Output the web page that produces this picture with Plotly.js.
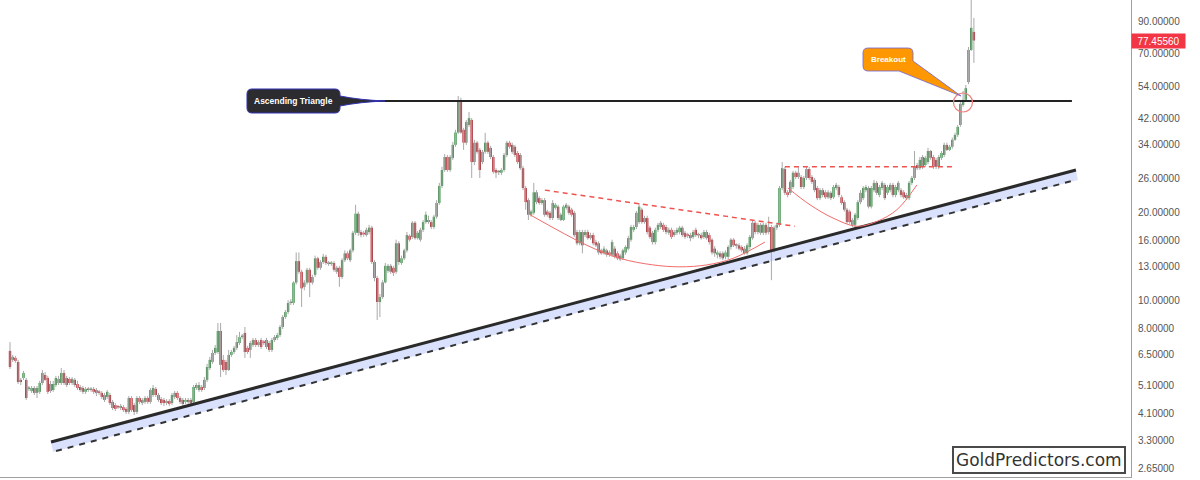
<!DOCTYPE html>
<html>
<head>
<meta charset="utf-8">
<script src="https://cdn.plot.ly/plotly-3.0.1.min.js"></script>
<style>
html,body{margin:0;padding:0;background:#ffffff;}
#chart{width:1200px;height:480px;}
</style>
</head>
<body>
<div id="chart"></div>
<script>
// ---- Candle data (weekly candles) ----
const openP = [
6.70,6.24,6.34,6.14,5.33,5.41,5.33,4.96,4.88,5.00,
4.81,4.85,5.20,5.54,5.41,5.16,4.92,5.12,5.20,5.20,
5.63,5.41,5.37,5.20,5.33,5.16,5.04,5.00,4.85,4.96,
4.92,4.96,4.92,4.85,4.81,4.73,4.66,4.73,4.48,4.37,
4.30,4.27,4.30,4.24,4.14,4.62,4.37,4.14,4.62,4.44,
4.48,4.62,4.48,4.73,4.96,4.73,4.58,4.55,4.44,4.51,
4.44,4.66,4.81,4.62,4.55,4.48,4.55,4.55,4.48,5.00,
4.92,5.04,5.00,5.33,5.85,6.14,6.59,6.64,7.84,6.24,
6.14,5.76,6.49,6.64,6.86,7.13,7.47,7.72,6.86,6.75,
7.02,7.30,7.02,7.30,7.18,7.30,7.13,6.75,7.30,7.42,
7.59,8.09,8.75,9.10,9.77,9.77,11.48,13.6,12.5,11.1,
11.48,12.7,11.48,12.2,13.9,12.9,13.5,14.07,13.4,13.3,
13.4,12.5,12.9,12.0,13.7,14.46,13.7,14.8,17.0,19.76,
17.1,17.0,16.7,17.1,17.7,13.5,11.9,9.85,10.24,11.5,
12.6,13.1,12.9,12.5,15.65,13.4,13.9,14.8,16.6,16.45,
18.4,16.3,16.1,17.4,18.5,18.8,18.5,17.8,19.3,21.5,
24.6,27.9,30.9,27.9,30.7,34.0,37.5,47.7,38.3,34.6,
39.8,41.4,29.7,34.6,32.7,29.7,32.2,34.6,33.2,30.9,
27.9,27.5,27.3,27.9,31.4,34.6,34.0,33.5,31.9,31.4,
28.3,24.2,22.0,19.6,19.9,23.4,22.35,21.5,22.0,20.1,
19.9,19.1,20.7,20.9,18.8,18.8,20.7,20.9,20.4,19.9,
17.1,15.65,17.1,16.7,17.1,16.3,16.7,15.8,15.65,14.8,
14.46,14.8,14.56,14.3,15.0,14.46,13.8,13.9,14.56,15.0,
16.1,17.4,17.8,18.5,20.4,19.1,19.1,17.7,17.0,15.8,
17.4,17.8,18.1,17.8,17.0,17.4,16.7,17.0,17.1,17.7,
17.0,16.7,16.7,16.45,17.4,16.7,16.7,16.45,17.1,16.7,
16.1,15.0,14.3,14.46,14.46,14.07,14.07,15.2,16.1,15.4,
15.4,15.2,15.0,14.46,15.2,16.3,18.4,17.1,18.1,17.0,
18.1,17.1,17.8,14.8,17.7,18.1,24.2,28.1,23.4,23.3,
24.4,27.3,26.4,26.4,24.4,26.2,28.1,26.4,25.8,24.2,
22.35,23.8,23.4,22.5,23.3,22.5,24.2,24.4,22.5,21.65,
20.4,20.1,18.1,18.1,19.1,21.65,22.35,23.8,24.2,20.9,
23.8,25.2,22.9,24.2,24.8,23.3,23.8,24.8,22.9,23.8,
23.8,23.4,22.9,22.35,25.2,26.2,29.0,28.3,30.9,29.0,
29.7,32.4,30.9,30.2,28.6,30.7,31.4,34.0,32.7,33.5,
35.4,36.8,39.8,46.6,48.5,55.8,71.9,82.9
];
const highP = [
7.18,6.49,6.44,6.24,5.41,5.72,5.41,5.08,5.08,5.08,
5.08,5.29,5.76,5.67,5.50,5.29,5.29,5.50,5.50,5.85,
5.76,5.50,5.45,5.45,5.41,5.29,5.12,5.08,5.04,5.04,
5.04,5.04,5.00,4.92,4.88,4.81,4.92,4.81,4.55,4.44,
4.37,4.41,4.37,4.30,4.69,4.69,4.44,4.69,4.69,4.62,
4.69,4.69,5.00,5.12,5.04,4.81,4.66,4.62,4.58,4.58,
4.81,4.88,4.88,4.69,4.62,4.62,4.62,4.62,5.12,5.20,
5.24,5.12,5.45,6.05,6.39,6.75,7.02,8.35,8.35,6.49,
6.24,6.75,6.75,6.97,7.59,7.78,7.65,8.09,6.97,7.24,
7.42,7.42,7.30,7.42,7.30,7.42,7.24,7.42,7.59,7.72,
8.22,8.89,9.25,10.0,10.08,11.6,14.56,14.56,12.7,11.7,
12.9,12.9,12.2,14.2,14.07,13.7,14.4,14.3,13.6,13.6,
13.6,13.1,13.1,13.9,14.8,14.7,15.0,17.26,21.2,20.1,
17.4,17.26,17.7,18.1,17.96,13.7,12.1,10.5,11.7,13.4,
13.3,13.3,13.1,16.1,15.9,14.2,15.0,17.1,16.8,18.65,
18.65,17.26,17.7,18.8,20.1,19.45,18.8,19.6,22.0,25.2,
28.6,31.65,31.4,31.4,34.8,38.3,50.0,49.3,38.9,41.4,
44.1,42.0,35.4,35.1,33.2,32.7,37.4,35.1,33.7,31.4,
28.3,27.9,28.3,31.9,35.1,35.1,34.6,34.0,32.4,31.9,
28.8,24.6,22.35,20.4,25.2,23.8,22.7,22.35,22.35,20.4,
20.2,22.0,21.5,21.2,19.9,21.2,21.5,21.2,20.7,20.2,
17.4,17.4,17.4,17.4,17.4,17.0,17.0,16.1,15.9,15.0,
15.3,15.0,14.8,16.1,15.3,14.7,14.4,15.0,15.4,16.6,
18.1,18.1,20.2,21.5,20.7,19.45,19.45,17.96,17.26,17.7,
18.4,18.65,18.4,18.1,17.7,17.7,17.4,17.7,17.96,17.96,
17.26,17.0,17.0,17.4,17.7,17.0,17.0,17.4,17.4,17.0,
16.3,15.3,14.8,14.7,14.7,14.8,15.4,16.3,16.3,15.65,
15.65,15.4,15.3,15.65,16.7,18.8,18.65,18.4,18.4,18.4,
18.4,19.3,18.1,17.96,18.4,24.6,29.7,28.6,23.8,25.8,
27.7,27.7,28.6,26.8,26.6,28.8,28.6,26.8,26.2,24.6,
24.2,24.2,23.8,23.8,23.6,24.8,25.2,24.8,22.9,22.0,
20.7,20.4,19.1,19.9,22.0,23.8,24.6,24.8,24.6,24.6,
25.8,25.6,24.8,25.6,25.2,24.8,25.2,25.2,24.8,25.6,
24.2,23.8,23.3,25.6,26.6,32.4,29.5,30.9,31.4,31.2,
33.2,32.7,31.4,30.7,31.4,32.4,34.6,34.6,34.0,36.0,
37.4,39.8,47.7,52.0,54.5,73.6,112,92.6
];
const lowP = [
5.81,6.14,6.10,5.16,5.12,5.33,4.55,4.88,4.81,4.73,
4.62,4.77,5.12,5.29,4.77,4.81,4.85,5.04,5.12,5.12,
5.12,5.04,5.12,5.12,5.04,4.92,4.85,4.77,4.77,4.85,
4.85,4.77,4.69,4.73,4.58,4.48,4.58,4.37,4.20,4.17,
4.24,4.20,4.14,4.07,4.07,4.14,4.04,4.07,4.41,4.37,
4.41,4.41,4.41,4.66,4.66,4.48,4.37,4.34,4.37,4.34,
4.37,4.58,4.55,4.41,4.34,4.41,4.41,4.37,4.41,4.92,
4.85,4.85,4.92,5.24,5.76,6.05,6.49,6.54,5.45,5.67,
5.54,5.72,6.39,6.54,6.75,7.02,7.36,6.34,6.54,6.34,
6.91,6.91,6.91,6.80,7.02,6.80,6.64,6.64,7.18,7.30,
7.47,7.96,8.62,8.96,9.62,9.62,11.3,12.3,9.47,10.8,
11.3,10.24,11.3,12.0,12.7,12.7,13.3,13.2,13.1,13.1,
12.5,12.3,11.1,11.8,13.5,13.7,13.5,14.56,16.7,16.6,
16.4,16.5,16.5,16.8,13.3,11.6,8.55,8.75,10.1,11.4,
12.4,12.3,12.1,12.3,13.2,13.2,13.7,14.56,15.85,16.2,
16.1,16.1,15.85,17.1,18.25,18.25,17.5,17.5,19.0,21.2,
24.2,27.5,27.5,27.5,30.2,33.5,37.1,37.1,32.7,34.0,
39.2,26.2,29.0,31.7,26.2,29.2,31.7,31.7,30.4,27.1,
26.2,26.8,26.8,27.5,30.9,33.0,31.7,30.9,29.2,27.9,
23.8,20.4,18.8,19.3,19.6,21.3,21.2,21.2,19.3,19.3,
18.8,18.8,20.4,18.8,18.65,18.65,20.4,19.6,19.3,16.45,
15.4,15.4,14.46,16.45,16.1,16.1,15.4,15.2,14.3,14.3,
14.3,14.07,14.07,14.07,13.9,13.7,13.6,13.7,14.3,14.8,
15.85,17.1,17.5,18.25,18.25,18.25,16.8,16.2,15.5,15.5,
17.1,17.5,17.1,16.8,16.7,16.2,16.45,16.7,16.8,16.45,
16.2,16.3,15.9,16.2,16.45,16.3,16.1,16.2,16.1,15.5,
14.3,14.07,13.9,13.8,13.7,13.8,13.8,14.9,15.2,15.0,
14.8,14.56,14.3,14.3,14.9,16.1,16.8,16.8,16.7,16.7,
16.7,16.8,11.7,14.56,17.4,17.8,23.8,22.9,22.5,22.9,
24.0,26.0,26.0,24.0,24.0,25.8,25.8,25.0,23.4,22.0,
22.0,22.5,22.2,22.2,22.0,22.2,23.8,22.5,21.2,20.1,
18.25,18.25,17.8,17.8,18.8,21.3,22.0,23.4,20.6,20.6,
23.4,22.9,22.5,23.8,22.0,22.9,23.4,22.5,22.5,23.4,
22.5,22.2,22.0,22.0,24.8,25.8,27.9,27.9,28.1,28.6,
29.2,30.2,28.1,28.1,28.1,30.2,30.9,32.4,32.4,33.0,
35.1,36.2,39.2,45.9,47.7,54.9,71.3,64.9
];
const closeP = [
5.90,6.39,6.19,5.24,5.24,5.63,4.62,5.00,5.00,4.81,
5.00,5.20,5.63,5.33,4.85,4.88,5.16,5.41,5.37,5.63,
5.20,5.12,5.20,5.37,5.12,5.00,4.92,4.85,4.96,4.92,
4.96,4.85,4.81,4.81,4.66,4.55,4.85,4.44,4.27,4.24,
4.29,4.34,4.20,4.14,4.62,4.20,4.14,4.62,4.48,4.55,
4.62,4.48,4.92,5.00,4.73,4.55,4.44,4.44,4.51,4.41,
4.73,4.81,4.62,4.48,4.41,4.55,4.48,4.44,5.04,5.12,
5.12,4.92,5.33,5.90,6.24,6.59,6.86,7.84,6.00,5.76,
5.76,6.49,6.64,6.86,7.18,7.47,7.53,6.64,6.64,7.13,
7.30,7.02,7.18,6.91,7.13,6.91,6.75,7.30,7.47,7.59,
8.09,8.75,9.10,9.77,9.85,11.48,13.6,12.5,10.97,11.48,
12.7,11.48,12.0,13.9,12.9,13.5,14.07,13.4,13.3,13.4,
12.7,12.9,12.0,13.7,14.46,13.9,14.8,17.0,19.76,17.0,
16.7,16.8,17.4,17.7,13.5,11.9,9.85,10.24,11.5,13.1,
13.1,12.5,12.4,15.65,13.5,13.9,14.8,16.7,16.1,18.4,
16.3,17.0,17.4,18.5,19.6,18.5,17.8,19.3,21.5,24.6,
27.9,30.9,27.9,30.9,34.0,37.5,47.7,37.5,34.6,40.7,
42.0,29.7,34.6,32.2,27.9,32.2,34.6,32.2,30.9,27.5,
27.3,27.4,27.9,31.4,34.6,33.5,32.2,31.4,29.7,28.3,
24.2,21.65,19.6,20.1,23.4,21.65,21.5,22.0,19.6,19.6,
19.1,21.5,21.2,19.1,19.6,20.9,21.2,19.9,19.6,16.7,
15.65,17.1,15.4,17.1,16.3,16.7,15.65,15.4,14.56,14.46,
15.0,14.3,14.3,15.8,14.07,13.9,14.2,14.8,15.2,16.3,
17.8,17.8,19.9,20.9,18.5,18.5,17.1,16.45,15.8,17.4,
18.1,18.4,17.4,17.1,17.4,16.45,17.1,17.4,17.7,16.7,
16.45,16.6,16.3,17.1,16.7,16.65,16.3,17.1,16.3,15.8,
14.56,14.46,14.56,14.07,13.9,14.56,15.2,16.1,15.4,15.35,
15.0,14.8,14.46,15.4,16.45,18.4,17.1,18.1,17.0,18.1,
17.0,17.8,14.56,17.7,18.1,24.2,28.3,23.3,22.9,25.4,
27.3,26.4,27.3,24.4,26.2,28.1,26.2,25.4,23.8,22.35,
23.8,22.9,22.5,23.4,22.35,24.4,24.8,22.9,21.5,20.4,
18.5,18.5,18.8,19.6,21.65,23.3,24.2,24.4,20.9,24.2,
25.2,23.3,24.4,25.2,22.35,24.4,24.8,22.9,24.4,25.2,
22.9,22.5,22.35,25.2,26.2,28.6,28.3,30.2,28.6,30.7,
32.4,30.7,28.6,28.6,30.9,31.9,34.0,32.7,33.5,35.4,
36.8,39.2,47.0,48.5,53.2,71.9,85.6,77.4556
];

// ---- Axis ticks ----
const tickVals = [2.65,3.3,4.1,5.1,6.5,8,10,13,16,20,26,34,42,54,70,90];
const tickLabels = ['2.65000','3.30000','4.10000','5.10000','6.50000','8.00000','10.00000','13.00000','16.00000','20.00000','26.00000','34.00000','42.00000','54.00000','70.00000','90.00000'];
const lastPrice = 77.4556;
const lastLabel = '77.45560';

// ---- Analyst drawings (candle index, price) ----
const supportIdx = [15.19, 394.8];  const supportPx = [3.265, 27.9];
const dashedIdx  = [17.04, 394.8];  const dashedPx  = [3.042, 25.8];
const bandIdx = [15.19, 394.8, 395.5, 15.93]; const bandPx = [3.265, 27.9, 25.8, 3.018];
const resistIdx = [122.2, 393.3];   const resistPx = [48.1, 48.1];
const wedgeIdx = [198.1, 290.7];    const wedgePx = [23.8, 17.9];
const handleIdx = [287.0, 348.9];   const handlePx = [28.6, 28.6];
const cup1Idx = [192.6, 213.7, 225.9, 238.1, 248.1, 258.1, 267.8, 279.6];
const cup1Px  = [19.6, 15.4, 13.9, 13.2, 13.0, 13.2, 13.9, 15.8];
const cup2Idx = [288.1, 296.3, 304.8, 313.7, 321.1, 328.5, 335.9];
const cup2Px  = [24.2, 21.2, 19.1, 17.9, 18.6, 20.4, 24.8];

// ---- Build ----
const GREEN = '#3a8a46', RED = '#b0242d', WICK = '#a9a9a9';
const idx = openP.map((_, i) => i);
const wickX = [], wickY = [];
idx.forEach(i => { wickX.push(i, i, null); wickY.push(lowP[i], highP[i], null); });
const bodyBase = idx.map(i => Math.min(openP[i], closeP[i]));
const bodyLen = idx.map(i => Math.max(Math.abs(closeP[i] - openP[i]), bodyBase[i] * 0.012));
const bodyCol = idx.map(i => closeP[i] >= openP[i] ? GREEN : RED);

const traces = [
  {type:'scatter', mode:'lines', x:bandIdx, y:bandPx, fill:'toself', fillcolor:'#d9e1fc',
   line:{width:0}, hoverinfo:'skip'},
  {type:'scatter', mode:'lines', x:wickX, y:wickY, line:{color:WICK, width:1}, hoverinfo:'skip'},
  {type:'bar', x:idx, y:bodyLen, base:bodyBase, width:0.88,
   marker:{color:bodyCol, line:{width:0}}, hoverinfo:'skip'},
  {type:'scatter', mode:'lines', x:supportIdx, y:supportPx, line:{color:'#2a2a2a', width:3}, hoverinfo:'skip'},
  {type:'scatter', mode:'lines', x:dashedIdx, y:dashedPx, line:{color:'#333333', width:2, dash:'6px,6px'}, hoverinfo:'skip'},
  {type:'scatter', mode:'lines', x:resistIdx, y:resistPx, line:{color:'#222222', width:2}, hoverinfo:'skip'},
  {type:'scatter', mode:'lines', x:wedgeIdx, y:wedgePx, line:{color:'#ef5350', width:1.5, dash:'5px,4px'}, hoverinfo:'skip'},
  {type:'scatter', mode:'lines', x:handleIdx, y:handlePx, line:{color:'#ef5350', width:1.5, dash:'5px,4px'}, hoverinfo:'skip'},
  {type:'scatter', mode:'lines', x:cup1Idx, y:cup1Px, line:{color:'#f26b6b', width:1, shape:'spline'}, hoverinfo:'skip'},
  {type:'scatter', mode:'lines', x:cup2Idx, y:cup2Px, line:{color:'#f26b6b', width:1, shape:'spline'}, hoverinfo:'skip'}
];

// pixel -> paper helpers for callout boxes
const PW = 1131, PH = 477;
const P = (x, y) => (x / PW).toFixed(5) + ',' + (1 - y / PH).toFixed(5);

const ascPath = 'M' + P(252,89) + ' L' + P(335,89) + ' Q' + P(340,89) + ' ' + P(340,94) +
  ' L' + P(340,96) + ' Q' + P(360,100) + ' ' + P(385,101) + ' Q' + P(360,102) + ' ' + P(340,106) +
  ' L' + P(340,108) + ' Q' + P(340,113) + ' ' + P(335,113) + ' L' + P(252,113) +
  ' Q' + P(247,113) + ' ' + P(247,108) + ' L' + P(247,94) + ' Q' + P(247,89) + ' ' + P(252,89) + ' Z';

const brkPath = 'M' + P(868,48) + ' L' + P(908,48) + ' Q' + P(913,48) + ' ' + P(913,53) +
  ' L' + P(913,61) + ' L' + P(961,96) + ' L' + P(899,71) + ' L' + P(868,71) +
  ' Q' + P(863,71) + ' ' + P(863,66) + ' L' + P(863,53) + ' Q' + P(863,48) + ' ' + P(868,48) + ' Z';

const layout = {
  width:1200, height:480,
  margin:{l:0, r:69, t:0, b:3, pad:0},
  paper_bgcolor:'#ffffff', plot_bgcolor:'#ffffff',
  showlegend:false, hovermode:false, barmode:'overlay',
  xaxis:{range:[-3.7037, 415.185], showgrid:false, zeroline:false, showticklabels:false, ticks:'',
         showline:true, linecolor:'#a0a0a0', linewidth:1, fixedrange:true},
  yaxis:{type:'log', range:[Math.log10(2.478), Math.log10(106.6)], side:'right',
         tickvals:tickVals, ticktext:tickLabels, showgrid:false, zeroline:false,
         showline:true, linecolor:'#a0a0a0', linewidth:1, ticks:'outside', ticklen:4,
         tickcolor:'rgba(0,0,0,0)', fixedrange:true,
         tickfont:{family:'Liberation Sans, Arial, sans-serif', size:10, color:'#555555'}},
  shapes:[
    {type:'line', xref:'paper', x0:0, x1:1, yref:'y', y0:Math.log10(lastPrice), y1:Math.log10(lastPrice),
     line:{color:'#f23645', width:1, dash:'dot'}},
    {type:'circle', xref:'paper', yref:'paper', x0:953.5/PW, x1:972.5/PW, y0:1-112/PH, y1:1-93/PH,
     line:{color:'#f08080', width:1.2}},
    {type:'path', xref:'paper', yref:'paper', path:ascPath, fillcolor:'#2b2b30', line:{color:'#3535b5', width:1}},
    {type:'path', xref:'paper', yref:'paper', path:brkPath, fillcolor:'#ff9800', line:{color:'#6f63d6', width:0.8}}
  ],
  annotations:[
    {xref:'paper', yref:'paper', x:293.5/PW, y:1-101/PH, xanchor:'center', yanchor:'middle',
     text:'<b>Ascending Triangle</b>', showarrow:false,
     font:{family:'Liberation Sans, Arial, sans-serif', size:8.5, color:'#ffffff'}},
    {xref:'paper', yref:'paper', x:888/PW, y:1-59.5/PH, xanchor:'center', yanchor:'middle',
     text:'<b>Breakout</b>', showarrow:false,
     font:{family:'Liberation Sans, Arial, sans-serif', size:8, color:'#ffffff'}},
    {xref:'paper', x:1, xanchor:'left', yref:'y', y:Math.log10(lastPrice), yanchor:'middle',
     text:lastLabel, showarrow:false, bgcolor:'#f23645', borderpad:1, width:51, height:12,
     font:{family:'Liberation Sans, Arial, sans-serif', size:10, color:'#ffffff'}},
    {xref:'paper', yref:'paper', x:1038.5/PW, y:1-459.5/PH, xanchor:'center', yanchor:'middle',
     text:'GoldPredictors.com', showarrow:false,
     bgcolor:'#ffffff', bordercolor:'#4a4a4a', borderwidth:2, borderpad:2,
     font:{family:'DejaVu Sans, sans-serif', size:17, color:'#333333'}}
  ]
};

Plotly.newPlot('chart', traces, layout, {displayModeBar:false, staticPlot:true});
</script>
</body>
</html>
